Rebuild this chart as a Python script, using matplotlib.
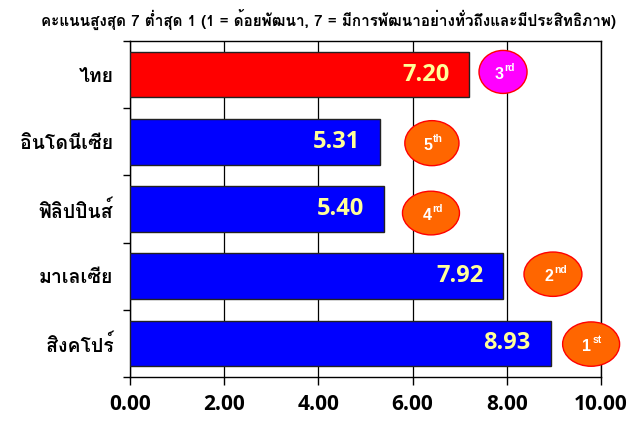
import matplotlib
matplotlib.use('Agg')
import matplotlib.pyplot as plt
from matplotlib.patches import Ellipse

# data
countries = ['ไทย', 'อินโดนีเซีย', 'ฟิลิปปินส์', 'มาเลเซีย', 'สิงคโปร์']
scores = [7.20, 5.31, 5.40, 7.92, 8.93]
rank_num = ['3', '5', '4', '2', '1']
rank_sfx = ['rd', 'th', 'rd', 'nd', 'st']
title = 'คะแนนสูงสุด 7 ต่ำสุด 1 (1 = ด้อยพัฒนา, 7 = มีการพัฒนาอย่างทั่วถึงและมีประสิทธิภาพ)'
xticks = [0, 2, 4, 6, 8, 10]

# layout of the rank badges (x centre, y shift, width, height in data units)
badge_x = [7.92, 6.41, 6.39, 8.98, 9.79]
badge_dy = [-0.04, 0.02, 0.06, -0.03, 0.01]
badge_w = [1.02, 1.15, 1.21, 1.23, 1.21]
badge_h = [0.64, 0.67, 0.65, 0.66, 0.66]

bar_colors = ['#FF0000', '#0000FF', '#0000FF', '#0000FF', '#0000FF']
badge_colors = ['#FF00FF', '#FF6600', '#FF6600', '#FF6600', '#FF6600']

thai_font = ['Loma', 'DejaVu Sans']
num_font = ['Open Sans', 'DejaVu Sans']
rank_font = ['Liberation Sans', 'DejaVu Sans']

fig = plt.figure(figsize=(6.41, 4.22), dpi=100)
ax = fig.add_axes([0.2028, 0.1066, 0.7348, 0.7962])

y = list(range(len(countries)))
ax.barh(y, scores, height=0.68, color=bar_colors, edgecolor='#222222',
        linewidth=1, zorder=3)

for i, v in enumerate(scores):
    ax.text(v - 0.42, i, f'{v:.2f}', ha='right', va='center', color='#FFFF99',
            fontsize=17, fontweight='bold', family=num_font, zorder=4)

for i in range(len(countries)):
    cy = i + badge_dy[i]
    ax.add_patch(Ellipse((badge_x[i], cy), badge_w[i], badge_h[i],
                         facecolor=badge_colors[i], edgecolor='#FF0000',
                         linewidth=1, zorder=4, clip_on=False))
    ax.annotate(rank_num[i], (badge_x[i], cy), xytext=(-3, -1.5),
                textcoords='offset points', ha='center', va='center',
                color='white', fontsize=11.5, fontweight='bold',
                family=rank_font, zorder=5, annotation_clip=False)
    ax.annotate(rank_sfx[i], (badge_x[i], cy), xytext=(0.8, 3),
                textcoords='offset points', ha='left', va='center',
                color='white', fontsize=7.5, fontweight='bold',
                family=rank_font, zorder=5, annotation_clip=False)

ax.set_xlim(0, 10)
ax.set_ylim(len(countries) - 0.5, -0.5)

ax.set_xticks(xticks)
ax.set_xticklabels([f'{t:.2f}' for t in xticks], fontsize=15,
                   fontweight='bold', family=num_font)
ax.tick_params(axis='x', direction='out', length=6, width=1, pad=6)
ax.xaxis.grid(True, color='black', linewidth=0.9, zorder=0)
ax.set_axisbelow(True)

ax.set_yticks([k - 0.5 for k in range(len(countries) + 1)])
ax.set_yticklabels([])
ax.tick_params(axis='y', which='major', direction='out', length=5, width=1)
ax.set_yticks(y, minor=True)
ax.set_yticklabels(countries, minor=True, fontsize=14, fontweight='bold',
                   family=thai_font)
ax.tick_params(axis='y', which='minor', length=0, pad=12)

for s in ax.spines.values():
    s.set_color('black')
    s.set_linewidth(1)

fig.text(0.512, 0.953, title, ha='center', va='center', fontsize=11,
         fontweight='bold', family=thai_font)

fig.savefig('out.png', dpi=100)
